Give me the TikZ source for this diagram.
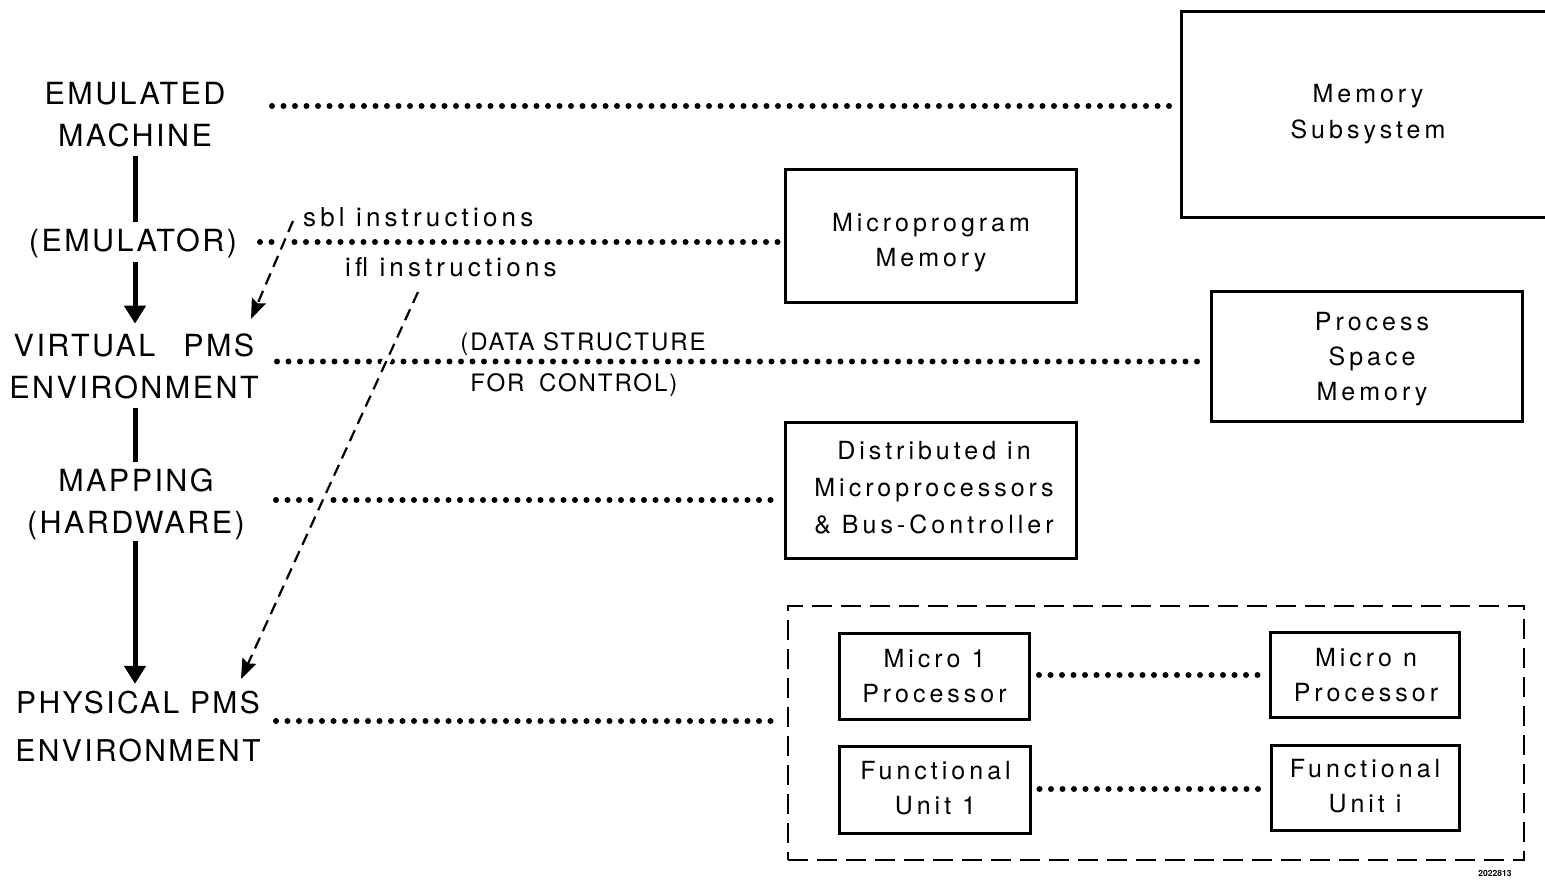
\documentclass[tikz,border=0pt]{standalone}
\usepackage{fontspec}
\setmainfont{TeX Gyre Heros}
\newfontfamily\lblfont{TeX Gyre Heros}[LetterSpace=8]
\newfontfamily\txtfont{TeX Gyre Heros}[LetterSpace=16]
\usetikzlibrary{arrows.meta}
\begin{document}
\begin{tikzpicture}[x=1pt,y=-1pt,
  lbl/.style={inner sep=0pt, align=center, font=\lblfont\fontsize{30.5}{42}\selectfont},
  biglbl/.style={inner sep=0pt, align=center, font=\lblfont\fontsize{30}{48}\selectfont},
  txt/.style={inner sep=0pt, align=center, font=\txtfont\fontsize{25}{35}\selectfont},
  instrtxt/.style={inner sep=0pt, font=\txtfont\fontsize{26}{35}\selectfont},
  note/.style={inner sep=0pt, align=left, font=\lblfont\fontsize{24}{41}\selectfont},
  box/.style={draw, line width=3pt, inner sep=0pt},
  group/.style={draw, line width=2.5pt, dash pattern=on 20pt off 9pt, inner sep=0pt},
  dotline/.style={line width=6pt, line cap=round, dash pattern=on 0pt off 11.5pt},
  flow/.style={line width=5pt},
  flowarrow/.style={flow, -{Triangle[width=21pt,length=18pt]}},
  instr/.style={line width=2.2pt, dash pattern=on 12pt off 7pt,
    -{Stealth[length=20pt,width=15pt,inset=3pt]},
    preaction={draw=white, line width=8pt, solid, -}}
]
\useasboundingbox (0,0) rectangle (1545,882);

% level labels on the left
\node[lbl] (emach) at (135,115) {EMULATED\\MACHINE};
\node[lbl, anchor=base] (emutr) at (133,251.7) {(EMULATOR)};
\node[lbl] (vpms) at (134,366.5) {VIRTUAL\hspace{17pt} PMS\\ENVIRONMENT};
\node[lbl] (mapp) at (136,504.5) {MAPPING\\(HARDWARE)};
\node[biglbl] (ppms) at (138,726.5) {PHYSICAL PMS\\ENVIRONMENT};

% resource boxes
\node[box, minimum width=380pt, minimum height=206pt] (memsub) at (1371,115) {};
\node[txt] (memsub-t) at (1368,113.7) {Memory\\[1pt]Subsystem};

\node[box, minimum width=291pt, minimum height=133pt] (micprog) at (931,236.5) {};
\node[txt] (micprog-t) at (931,243) {Microprogram\\Memory};

\node[box, minimum width=311pt, minimum height=130pt] (pspace) at (1367.4,356.7) {};
\node[txt] (pspace-t) at (1372,359.5) {Process\\Space\\Memory};

\node[box, minimum width=291pt, minimum height=135pt] (dist) at (931,490.5) {};
\node[txt] (dist-t) at (934,488) {Distributed in\\[2pt]Microprocessors\\[2pt]\& Bus-Controller};

% processing units
\node[group, minimum width=736pt, minimum height=254pt] (units) at (1156,733) {};
\node[box, minimum width=190.5pt, minimum height=86pt] (m1) at (934.25,676) {};
\node[txt] (m1-t) at (934.5,676.5) {Micro 1\\Processor};
\node[box, minimum width=189.6pt, minimum height=85.7pt] (mn) at (1364.8,674.85) {};
\node[txt] (mn-t) at (1366,674.7) {Micro n\\Processor};
\node[box, minimum width=191pt, minimum height=86.6pt] (f1) at (934.5,790) {};
\node[txt] (f1-t) at (935.5,788.3) {Functional\\Unit 1};
\node[box, minimum width=188.6pt, minimum height=85.7pt] (fi) at (1365.3,787.85) {};
\node[txt] (fi-t) at (1365,786.5) {Functional\\Unit i};

% instruction labels and the data-structure note
\node[instrtxt, anchor=base west] (sbl) at (303,226.5) {sbl instructions};
\node[instrtxt, anchor=base west] (ifl) at (345,277) {ifl instructions};
\node[note] (ds) at (583,364.5) {(DATA STRUCTURE\\\hspace*{10pt}FOR\hspace{6pt} CONTROL)};
\node[inner sep=0pt, font=\bfseries\fontsize{8.5}{9}\selectfont] (figno) at (1495,873) {2022813};

% dotted correspondences
\coordinate (d1) at (272,106);
\coordinate (d2) at (260,242);
\coordinate (d3) at (277,361.5);
\coordinate (d4) at (276,500);
\coordinate (d5) at (276,721);
\draw[dotline] (d1) -- ([xshift=-4pt]memsub.west |- d1);
\draw[dotline] (d2) -- ([xshift=-5pt]micprog.west |- d2);
\draw[dotline] (d3) -- ([xshift=-7pt]pspace.west |- d3);
\draw[dotline] (d4) -- ([xshift=-10pt]dist.west |- d4);
\draw[dotline] (d5) -- ([xshift=-8pt]units.west |- d5);
\draw[dotline] ([xshift=8pt]m1.east |- 0,675) -- ([xshift=-3pt]mn.west |- 0,675);
\draw[dotline] ([xshift=8pt]f1.east |- 0,789) -- ([xshift=-3pt]fi.west |- 0,789);

% level-to-level flow
\draw[flow] ([yshift=-8pt]emach.south) -- ([yshift=7pt]emach.south |- emutr.north);
\draw[flowarrow] ([yshift=-4pt]emach.south |- emutr.south) -- ([yshift=10pt]emach.south |- vpms.north);
\draw[flow] ([yshift=-9pt]emach.south |- vpms.south) -- ([yshift=7pt]emach.south |- mapp.north);
\draw[flowarrow] ([yshift=-1pt]emach.south |- mapp.south) -- ([yshift=7pt]emach.south |- ppms.north);

% instruction paths (dashed)
\coordinate (sbl0) at (293,221);
\coordinate (sbl1) at (251,319);
\coordinate (ifl0) at (418,292);
\coordinate (ifl1) at (241,679);
\draw[instr] (sbl0) -- (sbl1);
\draw[instr] (ifl0) -- (ifl1);
\end{tikzpicture}
\end{document}
